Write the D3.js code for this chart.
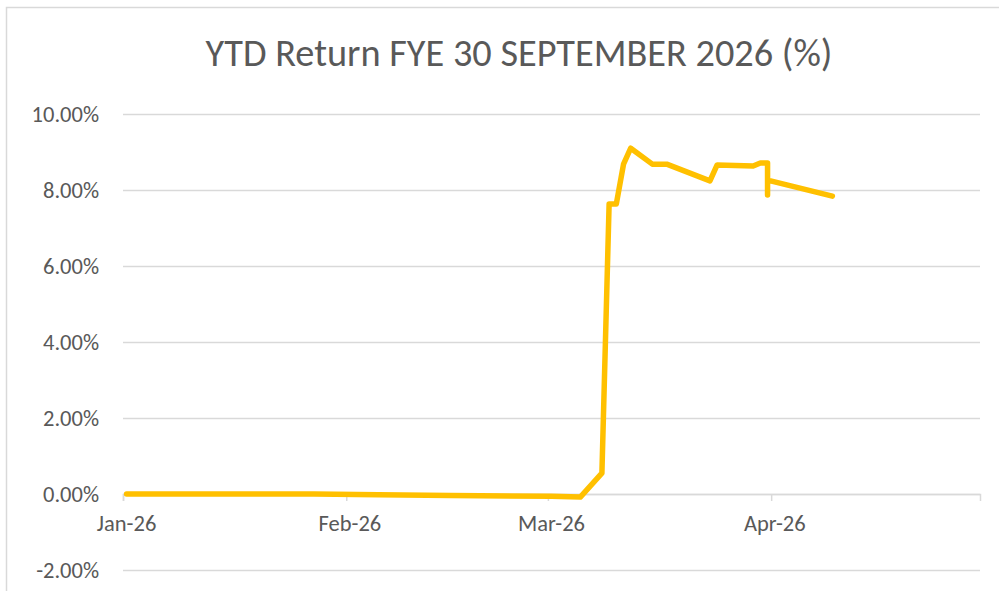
<!DOCTYPE html>
<html>
<head>
<meta charset="utf-8">
<script src="https://cdn.jsdelivr.net/npm/d3@7"></script>
<style>
	body { margin: 0; background: #fff; }
	svg { display: block; }
	text { font-family: Carlito, "Open Sans", sans-serif; fill: #595959; }
</style>
</head>
<body>
<div id="chart"></div>
<script>
var chartTitle = "YTD Return FYE 30 SEPTEMBER 2026 (%)";

// daily YTD return points (one row per reading, dates may repeat)
var dates = ["2026-01-01", "2026-01-27", "2026-02-05", "2026-02-15", "2026-03-01", "2026-03-05",
	"2026-03-08", "2026-03-09", "2026-03-10", "2026-03-11", "2026-03-12", "2026-03-15",
	"2026-03-17", "2026-03-23", "2026-03-24", "2026-03-29", "2026-03-30", "2026-03-31",
	"2026-03-31", "2026-03-31", "2026-04-09"];
var returns = [0.00, 0.00, -0.02, -0.04, -0.06, -0.08,
	0.55, 7.63, 7.63, 8.68, 9.10, 8.68,
	8.68, 8.24, 8.66, 8.63, 8.71, 8.71,
	7.87, 8.26, 7.84];

var xDomain = ["2026-01-01", "2026-04-30"];
var monthTicks = ["2026-01-01", "2026-02-01", "2026-03-01", "2026-04-01"];
var yTicks = [-2, 0, 2, 4, 6, 8, 10];

var width = 999, height = 591;
var parse = d3.utcParse("%Y-%m-%d");
var fmtMonth = d3.utcFormat("%b-%y");
var fmtPct = function(v) { return v.toFixed(2) + "%"; };

var svg = d3.select("#chart")
	.append("svg")
	.attr("width", width)
	.attr("height", height);

var x = d3.scaleUtc()
	.domain(xDomain.map(parse))
	.range([123, 980]);
var y = d3.scaleLinear()
	.domain([-2, 10])
	.range([570, 114]);

//Points sit in the middle of their day slot
function midDay(s) { return x(d3.utcHour.offset(parse(s), 12)); }

//Outer chart border (only left and top visible)
svg.append("path")
	.attr("d", "M6.5," + height + "V7.5H" + width)
	.attr("fill", "none")
	.attr("stroke", "#d9d9d9")
	.attr("stroke-width", 1.5);

//Title
var title = svg.append("text")
	.attr("x", 519)
	.attr("y", 66)
	.attr("text-anchor", "middle")
	.style("font-size", "38px")
	.text(chartTitle);
var tw = title.node().getComputedTextLength();
title.style("font-size", (38 * 627 / tw).toFixed(2) + "px");

//Gridlines
var yAxis = d3.axisLeft(y)
	.tickValues(yTicks)
	.tickSize(-(980 - 123))
	.tickPadding(24)
	.tickFormat(fmtPct);
var gy = svg.append("g")
	.attr("transform", "translate(123,0)")
	.call(yAxis);
gy.select(".domain").remove();
gy.selectAll(".tick line")
	.attr("stroke", "#d9d9d9")
	.attr("stroke-width", 1.5);
gy.selectAll(".tick text")
	.attr("x", -24)
	.style("font-size", "22.5px")
	.style("font-family", "Carlito, 'Open Sans', sans-serif")
	.attr("fill", "#595959");

//Horizontal axis at zero
var xAxis = d3.axisBottom(x)
	.tickValues(monthTicks.map(parse))
	.tickSize(7)
	.tickFormat("");
var gx = svg.append("g")
	.attr("transform", "translate(0," + y(0) + ")")
	.call(xAxis);
gx.select(".domain")
	.attr("stroke", "#d9d9d9")
	.attr("stroke-width", 1.5);
gx.selectAll(".tick line")
	.attr("stroke", "#d9d9d9")
	.attr("stroke-width", 1.5);

//Month labels centred on the first day slot
svg.selectAll(".month-label")
	.data(monthTicks)
	.enter()
	.append("text")
	.attr("class", "month-label")
	.attr("x", function(d) { return midDay(d); })
	.attr("y", y(0) + 37)
	.attr("text-anchor", "middle")
	.style("font-size", "22.5px")
	.text(function(d) { return fmtMonth(parse(d)); });

//Return line
var points = dates.map(function(d, i) { return [midDay(d), y(returns[i])]; });
svg.append("path")
	.attr("d", d3.line()(points))
	.attr("fill", "none")
	.attr("stroke", "#ffc000")
	.attr("stroke-width", 5.5)
	.attr("stroke-linejoin", "round")
	.attr("stroke-linecap", "round");
</script>
</body>
</html>
